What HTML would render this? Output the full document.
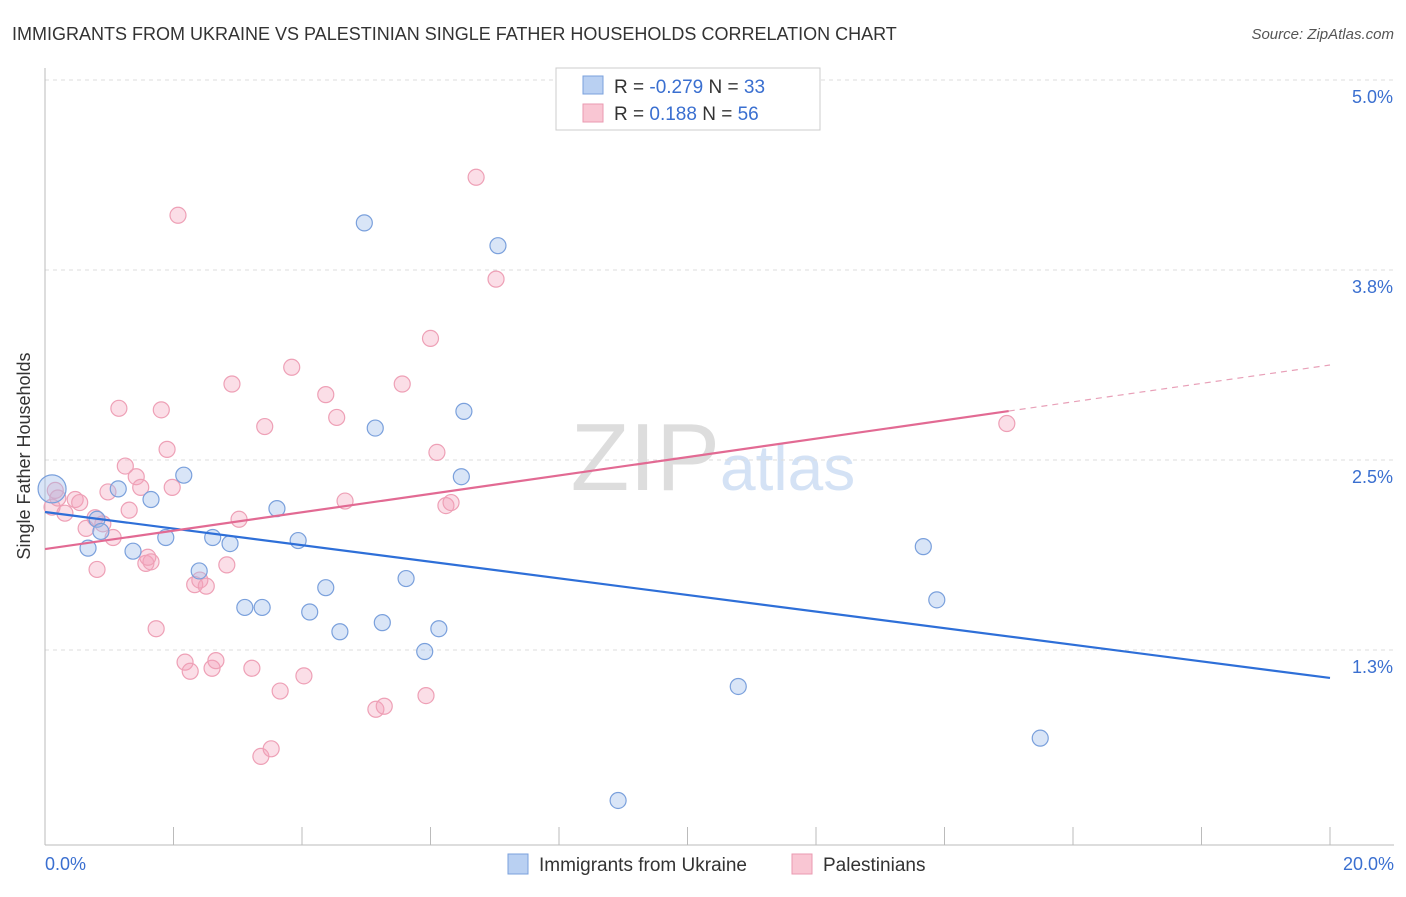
<!DOCTYPE html>
<html><head><meta charset="utf-8"><style>
body{margin:0;background:#fff;font-family:"Liberation Sans",sans-serif;}
svg text{font-family:"Liberation Sans",sans-serif;}
</style></head><body>
<svg id="chart" width="1406" height="892" xmlns="http://www.w3.org/2000/svg">
<text x="12" y="40" font-size="18" fill="#333">IMMIGRANTS FROM UKRAINE VS PALESTINIAN SINGLE FATHER HOUSEHOLDS CORRELATION CHART</text>
<text x="1394" y="39" font-size="15" fill="#555" font-style="italic" text-anchor="end">Source: ZipAtlas.com</text>
<text x="30" y="456" font-size="18" fill="#333" transform="rotate(-90 30 456)" text-anchor="middle">Single Father Households</text>
<text x="720" y="490" font-size="96" fill="#ddd" text-anchor="end" font-family="Liberation Serif">ZIP</text>
<text x="720" y="490" font-size="64" fill="#d4e2f5">atlas</text>
<g id="grid"></g><g id="axes"></g><g id="marks"></g>
<g>
<rect x="556" y="68" width="264" height="62" fill="#fff" stroke="#ccc"/>
<rect x="583" y="76" width="20" height="18" fill="#b9d0f2" stroke="#7aa0dc"/>
<rect x="583" y="104" width="20" height="18" fill="#f9c6d3" stroke="#ea9ab0"/>
<text x="614" y="93" font-size="19" fill="#333">R = <tspan fill="#3a6fd0">-0.279</tspan>   N = <tspan fill="#3a6fd0">33</tspan></text>
<text x="614" y="120" font-size="19" fill="#333">R =   <tspan fill="#3a6fd0">0.188</tspan>   N = <tspan fill="#3a6fd0">56</tspan></text>
</g>
<g>
<rect x="508" y="854" width="20" height="20" fill="#b9d0f2" stroke="#7aa0dc"/>
<text x="539" y="871" font-size="19" fill="#333">Immigrants from Ukraine</text>
<rect x="792" y="854" width="20" height="20" fill="#f9c6d3" stroke="#ea9ab0"/>
<text x="823" y="871" font-size="19" fill="#333">Palestinians</text>
</g>
</svg>
<script>
const yTicks=[5.0,3.75,2.5,1.25];
const yTickLabels=["5.0%","3.8%","2.5%","1.3%"];
const xTickCount=10;
const blueX=[0.11,0.81,0.67,1.14,1.65,0.87,1.37,1.88,2.16,2.61,2.88,2.4,3.11,3.38,3.61,3.94,4.12,4.37,4.59,4.97,5.14,5.25,5.62,5.91,6.13,6.48,6.52,7.05,8.92,10.79,13.67,13.88,15.49];
const blueY=[2.31,2.11,1.92,2.31,2.24,2.03,1.9,1.99,2.4,1.99,1.95,1.77,1.53,1.53,2.18,1.97,1.5,1.66,1.37,4.06,2.71,1.43,1.72,1.24,1.39,2.39,2.82,3.91,0.26,1.01,1.93,1.58,0.67];
const pinkX=[0.16,0.11,0.31,0.47,0.54,0.78,0.64,0.81,0.9,0.98,1.06,1.15,1.25,1.31,1.42,1.49,1.57,1.65,1.73,1.81,1.9,1.98,2.07,2.18,2.26,2.33,2.41,2.51,2.6,2.66,2.83,2.91,3.02,3.22,3.36,3.42,3.52,3.66,3.84,4.03,4.37,4.54,4.67,5.15,5.28,5.56,5.93,6.0,6.1,6.24,6.32,6.71,7.02,14.97,0.2,1.6];
const pinkY=[2.3,2.19,2.15,2.24,2.22,2.12,2.05,1.78,2.08,2.29,1.99,2.84,2.46,2.17,2.39,2.32,1.82,1.83,1.39,2.83,2.57,2.32,4.11,1.17,1.11,1.68,1.71,1.67,1.13,1.18,1.81,3.0,2.11,1.13,0.55,2.72,0.6,0.98,3.11,1.08,2.93,2.78,2.23,0.86,0.88,3.0,0.95,3.3,2.55,2.2,2.22,4.36,3.69,2.74,2.25,1.86];
const blueTrend=[2.158,1.066];
const pinkTrend=[1.914,2.822,3.125];
const NS="http://www.w3.org/2000/svg";
const X0=45,X1=1330,YTOP=80;
const sx=v=>X0+(v/20)*(X1-X0);
const sy=v=>YTOP+(5-v)*152;
function mk(tag,attrs,parent){const e=document.createElementNS(NS,tag);for(const k in attrs)e.setAttribute(k,attrs[k]);parent.appendChild(e);return e;}
const grid=document.getElementById('grid'),axes=document.getElementById('axes'),marks=document.getElementById('marks');
yTicks.forEach((t,i)=>{
 const l=mk('line',{x1:X0,x2:1394,y1:sy(t),y2:sy(t),stroke:'#ddd','stroke-dasharray':'4,4'},grid);
 
 
 const tx=mk('text',{x:1393,y:sy(t)+23,'font-size':18,fill:'#3a6fd0','text-anchor':'end'},axes);
 tx.textContent=yTickLabels[i];
 
 
});
const ya=mk('line',{x1:X0,x2:X0,y1:68,y2:845,stroke:'#bbb'},axes);


const xa=mk('line',{x1:X0,x2:1394,y1:845,y2:845,stroke:'#bbb'},axes);


for(let i=1;i<=xTickCount;i++){
 const t=mk('line',{x1:sx(i*2),x2:sx(i*2),y1:827,y2:845,stroke:'#bbb'},axes);
 
 
}
const xl0=mk('text',{x:45,y:870,'font-size':18,fill:'#3a6fd0'},axes);xl0.textContent='0.0%';


const xl1=mk('text',{x:1394,y:870,'font-size':18,fill:'#3a6fd0','text-anchor':'end'},axes);xl1.textContent='20.0%';


pinkX.forEach((x,i)=>{
 const c=mk('circle',{cx:sx(x),cy:sy(pinkY[i]),r:8,fill:'rgba(244,160,185,0.35)',stroke:'#eea0b6','stroke-width':1.2},marks);
 
 
});
blueX.forEach((x,i)=>{
 const c=mk('circle',{cx:sx(x),cy:sy(blueY[i]),r:i===0?14:8,fill:'rgba(160,190,235,0.4)',stroke:'#7aa0dc','stroke-width':1.2},marks);
 
 
});
const bl=mk('line',{x1:sx(0),y1:sy(blueTrend[0]),x2:sx(20),y2:sy(blueTrend[1]),stroke:'#2e6fd8','stroke-width':2.2},marks);


const pl=mk('line',{x1:sx(0),y1:sy(pinkTrend[0]),x2:sx(15),y2:sy(pinkTrend[1]),stroke:'#e26a93','stroke-width':2.2},marks);


const pd=mk('line',{x1:sx(15),y1:sy(pinkTrend[1]),x2:sx(20),y2:sy(pinkTrend[2]),stroke:'#e8a0b8','stroke-width':1.2,'stroke-dasharray':'6,5'},marks);


</script>
</body></html>
